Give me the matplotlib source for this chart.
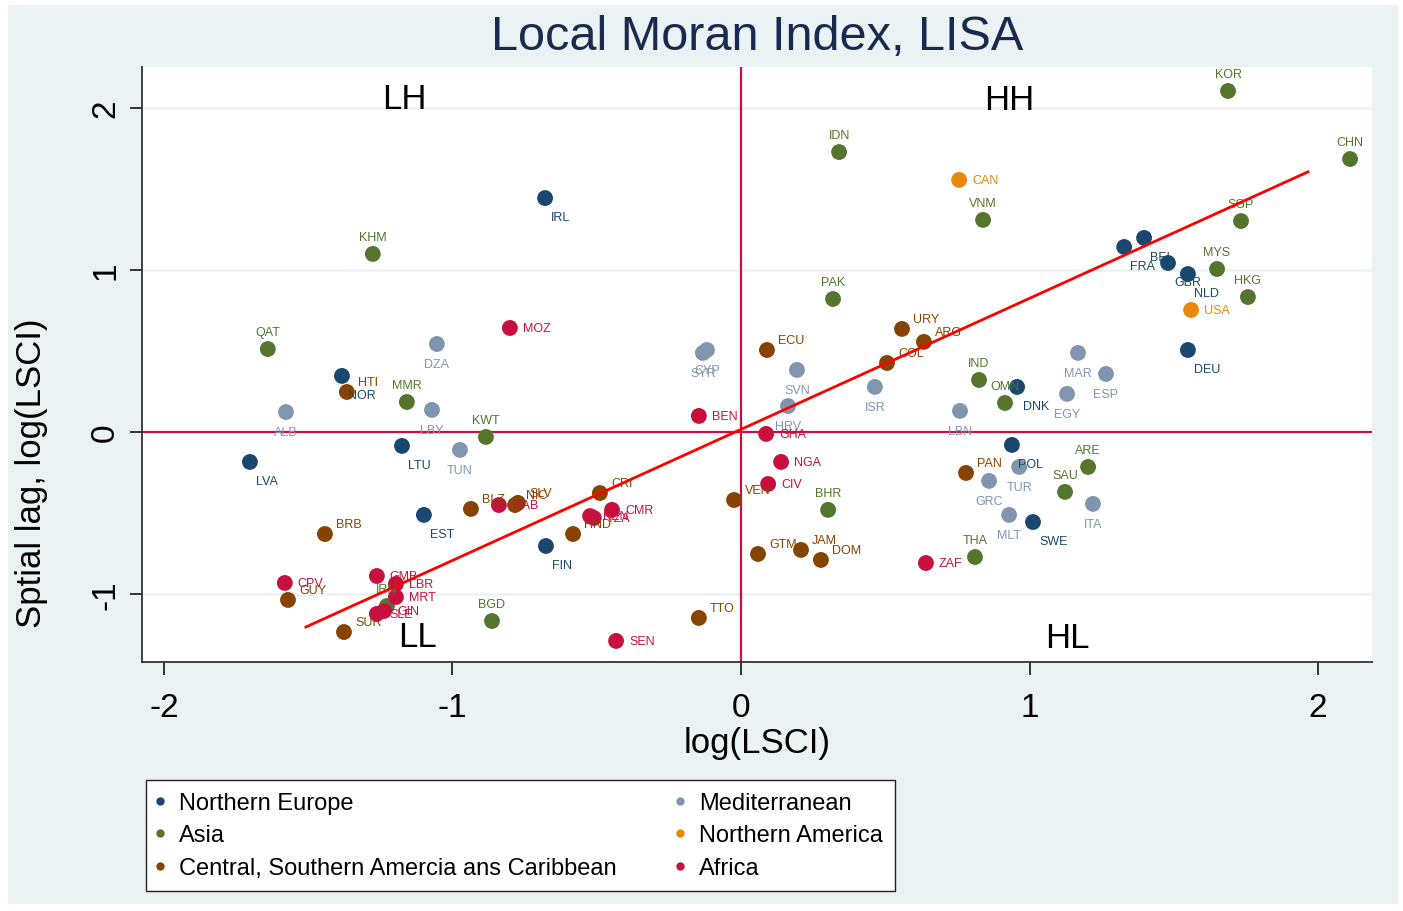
import matplotlib
matplotlib.use("Agg")
import matplotlib.pyplot as plt
from matplotlib.lines import Line2D
from matplotlib.patches import Rectangle

plt.rcParams['font.family'] = ['Liberation Sans', 'DejaVu Sans']

# ---------------- data ----------------
ne_codes = ["IRL", "NOR", "LVA", "LTU", "EST", "FIN", "FRA", "BEL", "GBR", "NLD", "DEU", "DNK", "POL", "SWE"]
ne_x = [-0.679, -1.383, -1.702, -1.175, -1.099, -0.676, 1.328, 1.397, 1.480, 1.549, 1.549, 0.957, 0.939, 1.012]
ne_y = [1.444, 0.346, -0.185, -0.086, -0.512, -0.704, 1.142, 1.198, 1.043, 0.975, 0.506, 0.278, -0.080, -0.556]

asia_codes = ["KOR", "CHN", "IDN", "VNM", "SGP", "MYS", "HKG", "KHM", "QAT", "PAK", "MMR", "KWT",
              "IND", "OMN", "ARE", "SAU", "BHR", "THA", "BGD", "IRN"]
asia_x = [1.688, 2.111, 0.340, 0.839, 1.733, 1.650, 1.757, -1.276, -1.640, 0.319, -1.158, -0.884,
          0.825, 0.915, 1.203, 1.123, 0.302, 0.811, -0.863, -1.227]
asia_y = [2.105, 1.685, 1.728, 1.309, 1.302, 1.006, 0.833, 1.099, 0.512, 0.821, 0.185, -0.031,
          0.321, 0.179, -0.216, -0.370, -0.481, -0.772, -1.167, -1.074]

csa_codes = ["HTI", "ECU", "URY", "ARG", "COL", "VEN", "GTM", "JAM", "DOM", "PAN", "TTO", "BRB",
             "GUY", "SUR", "BLZ", "NIC", "SLV", "CRI", "HND"]
csa_x = [-1.366, 0.090, 0.558, 0.634, 0.506, -0.024, 0.059, 0.208, 0.277, 0.780, -0.146, -1.442,
         -1.570, -1.376, -0.936, -0.783, -0.773, -0.489, -0.582]
csa_y = [0.247, 0.506, 0.636, 0.556, 0.426, -0.420, -0.753, -0.728, -0.790, -0.253, -1.148, -0.630,
         -1.037, -1.235, -0.475, -0.451, -0.438, -0.377, -0.630]

med_codes = ["DZA", "ALB", "LBY", "TUN", "CYP", "SYR", "SVN", "HRV", "ISR", "LBN", "MAR", "ESP",
             "EGY", "TUR", "GRC", "MLT", "ITA"]
med_x = [-1.054, -1.577, -1.071, -0.974, -0.118, -0.132, 0.194, 0.163, 0.464, 0.759, 1.168, 1.265,
         1.130, 0.964, 0.860, 0.929, 1.220]
med_y = [0.543, 0.123, 0.136, -0.111, 0.506, 0.488, 0.383, 0.160, 0.278, 0.130, 0.488, 0.358,
         0.235, -0.216, -0.302, -0.512, -0.444]

na_codes = ["CAN", "USA"]
na_x = [0.756, 1.560]
na_y = [1.556, 0.753]

afr_codes = ["MOZ", "BEN", "GHA", "NGA", "CIV", "ZAF", "SEN", "CMR", "KEN", "TZA", "GAB", "CPV",
             "GMB", "LBR", "MRT", "SLE", "GIN"]
afr_x = [-0.801, -0.146, 0.087, 0.139, 0.094, 0.641, -0.433, -0.447, -0.523, -0.510, -0.839, -1.581,
         -1.262, -1.196, -1.196, -1.262, -1.237]
afr_y = [0.642, 0.099, -0.012, -0.185, -0.321, -0.809, -1.290, -0.481, -0.519, -0.531, -0.451, -0.932,
         -0.889, -0.938, -1.019, -1.123, -1.105]

region_names = ["Northern Europe", "Asia", "Central, Southern Amercia ans Caribbean",
                "Mediterranean", "Northern America", "Africa"]

# Moran scatter fit line
fit_x = [-1.508, 1.965]
fit_slope = 0.809
fit_intercept = 0.016

quadrants = ["LH", "HH", "LL", "HL"]
quad_x = [-1.165, 0.930, -1.122, 1.130]
quad_y = [2.06, 2.05, -1.26, -1.27]

x_ticks = [-2, -1, 0, 1, 2]
y_ticks = [-1, 0, 1, 2]

# ---------------- style ----------------
colors = ["#1A476F", "#55752F", "#874300", "#8196AE", "#E8890C", "#C8103E"]
label_pos = [4, 12, 2, 6, 3, 3]   # clock position of labels per region
offsets = {  # pixels
    12: (0, 17, "center"),
    6: (0, -20, "center"),
    3: (13, 0, "left"),
    2: (11, 10, "left"),
    4: (6, -19, "left"),
}

W, H = 1403, 912
fig = plt.figure(figsize=(W / 100, H / 100), dpi=100)
fig.patch.set_facecolor("white")
fig.patches.append(Rectangle((8 / W, 7 / H), (1398 - 8) / W, (906 - 7) / H,
                             transform=fig.transFigure, facecolor="#EAF2F3",
                             edgecolor="none", zorder=-10))

ax = fig.add_axes([142 / W, 1 - 663 / H, (1372 - 142) / W, (663 - 68) / H])
ax.set_facecolor("white")
ax.set_xlim(-2.076, 2.187)
ax.set_ylim(-1.420, 2.253)

# grid lines
for yv in y_ticks:
    if yv != 0:
        ax.axhline(yv, color="#EAF2F3", lw=1.8, zorder=0)

ax.axhline(0, color="#C8103E", lw=1.6, zorder=1)
ax.axvline(0, color="#C8103E", lw=1.6, zorder=1)

groups = [
    (ne_codes, ne_x, ne_y),
    (asia_codes, asia_x, asia_y),
    (csa_codes, csa_x, csa_y),
    (med_codes, med_x, med_y),
    (na_codes, na_x, na_y),
    (afr_codes, afr_x, afr_y),
]

for (codes, xs, ys), col, pos in zip(groups, colors, label_pos):
    ax.scatter(xs, ys, s=130, color=col, edgecolors="none", zorder=3)
    dx, dy, ha = offsets[pos]
    for c, xv, yv in zip(codes, xs, ys):
        ax.annotate(c, (xv, yv), xytext=(dx, dy), textcoords="offset pixels",
                    ha=ha, va="center", fontsize=9, color=col, zorder=4)

fy = [fit_intercept + fit_slope * v for v in fit_x]
ax.plot(fit_x, fy, color="#FF0000", lw=2.0, zorder=5)

for q, qx, qy in zip(quadrants, quad_x, quad_y):
    ax.text(qx, qy, q, fontsize=25, ha="center", va="center", color="black", zorder=6)

ax.set_xticks(x_ticks)
ax.set_yticks(y_ticks)
ax.set_xticklabels([str(v) for v in x_ticks], fontsize=24)
ax.set_yticklabels([str(v) for v in y_ticks], fontsize=24, rotation=90, va="center")
ax.tick_params(axis="both", length=9, width=1.4, color="#333333")
ax.tick_params(axis="x", pad=12.5)
ax.tick_params(axis="y", pad=6)
for s in ["top", "right"]:
    ax.spines[s].set_visible(False)
for s in ["left", "bottom"]:
    ax.spines[s].set_linewidth(1.3)
    ax.spines[s].set_color("#333333")

ax.set_xlabel("log(LSCI)", fontsize=25, labelpad=2)
ax.set_ylabel("Sptial lag, log(LSCI)", fontsize=25)
ax.yaxis.set_label_coords((48 - 142) / 1230, (663 - 473) / 595)

fig.text(757 / W, 1 - 37 / H, "Local Moran Index, LISA", fontsize=35,
         ha="center", va="center", color="#1A2A4F")

handles = [Line2D([], [], marker="o", linestyle="none", markersize=6,
                  markerfacecolor=c, markeredgecolor="none") for c in colors]
leg = fig.legend(handles, region_names, loc="upper left",
                 bbox_to_anchor=(146 / W, 1 - 781 / H), ncol=2, fontsize=17,
                 frameon=True, fancybox=False, edgecolor="#222222", framealpha=1.0,
                 handlelength=0.2, handletextpad=0.69, columnspacing=2.6,
                 labelspacing=0.45, borderpad=0.5, borderaxespad=0)
leg.get_frame().set_linewidth(1.0)
leg.get_frame().set_facecolor("white")

fig.savefig("out.png", dpi=100, facecolor=fig.get_facecolor())
